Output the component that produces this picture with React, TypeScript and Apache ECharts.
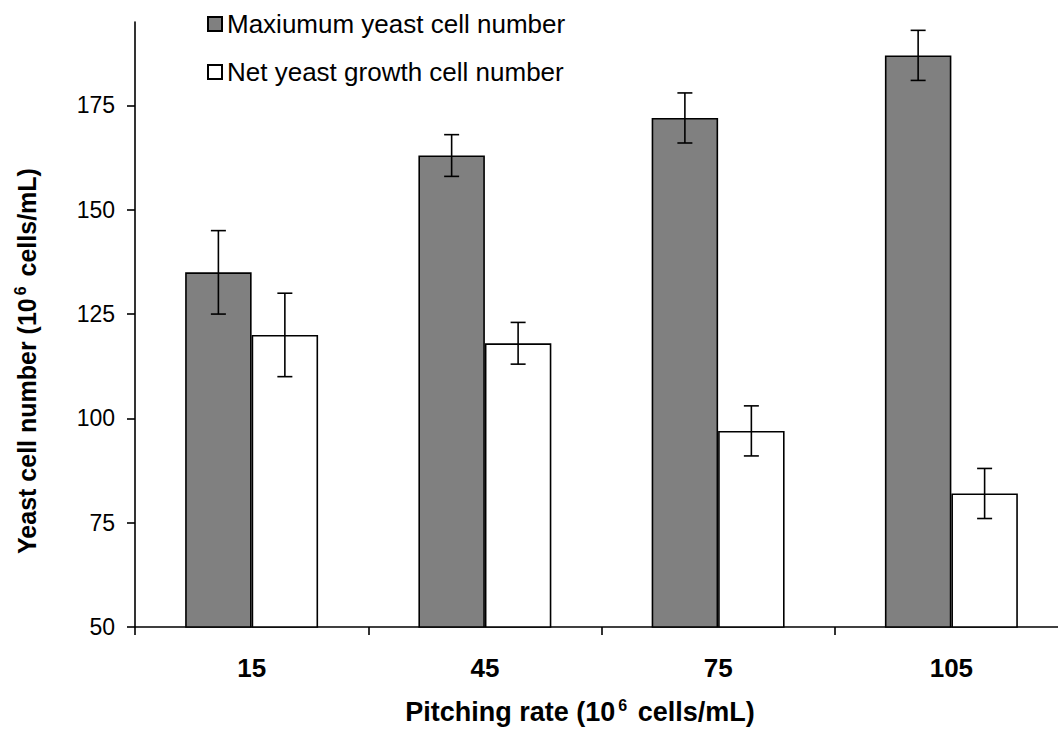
import React, { useEffect, useRef } from "react";
import * as echarts from "echarts";

const categories = ["15", "45", "75", "105"];
const seriesNames = ["Maxiumum yeast cell number", "Net yeast growth cell number"];
const maxCells = [135, 163, 172, 187];
const maxCellsErr = [10, 5, 6, 6];
const netGrowth = [120, 118, 97, 82];
const netGrowthErr = [10, 5, 6, 6];
const yTicks = [50, 75, 100, 125, 150, 175];

const FONT = "'Liberation Sans', Arial, sans-serif";
const BAR_FRAC = 0.285;

function errorSeries(values: number[], errs: number[], side: number) {
  return {
    type: "custom",
    silent: true,
    z: 10,
    data: values.map((v, i) => [i, v - errs[i], v + errs[i]]),
    renderItem: (params: any, api: any) => {
      const idx = api.value(0);
      const lo = api.coord([idx, api.value(1)]);
      const hi = api.coord([idx, api.value(2)]);
      const band = api.size([1, 0])[0];
      const x = lo[0] + side * band * BAR_FRAC / 2;
      const cap = 7.5;
      const st = { stroke: "#000", lineWidth: 1.6 };
      return {
        type: "group",
        children: [
          { type: "line", shape: { x1: x, y1: lo[1], x2: x, y2: hi[1] }, style: st },
          { type: "line", shape: { x1: x - cap, y1: lo[1], x2: x + cap, y2: lo[1] }, style: st },
          { type: "line", shape: { x1: x - cap, y1: hi[1], x2: x + cap, y2: hi[1] }, style: st },
        ],
      };
    },
  };
}

export default function App() {
  const ref = useRef<HTMLDivElement>(null);
  useEffect(() => {
    if (!ref.current) return;
    const chart = echarts.init(ref.current, null, { renderer: "svg" });
    chart.setOption({
      animation: false,
      backgroundColor: "#fff",
      textStyle: { fontFamily: FONT },
      grid: { left: 135, right: 0, top: 22, bottom: 115, containLabel: false },
      legend: {
        orient: "vertical",
        left: 207,
        top: 11,
        padding: 0,
        itemWidth: 14,
        itemHeight: 14,
        itemGap: 22,
        icon: "rect",
        selectedMode: false,
        data: seriesNames,
        textStyle: { fontFamily: FONT, fontSize: 26, color: "#000", lineHeight: 26, padding: [0, 0, 0, 0] },
      },
      xAxis: {
        type: "category",
        data: categories,
        axisLine: { lineStyle: { color: "#000", width: 1.6 } },
        axisTick: { show: true, length: 8, lineStyle: { color: "#000", width: 1.6 } },
        axisLabel: { fontFamily: FONT, fontSize: 26, fontWeight: "bold", color: "#000", margin: 28 },
        splitLine: { show: false },
      },
      yAxis: {
        type: "value",
        min: 50,
        max: 195,
        interval: 25,
        axisLine: { show: true, lineStyle: { color: "#000", width: 1.6 } },
        axisTick: { show: true, length: 8, lineStyle: { color: "#000", width: 1.6 }, customValues: yTicks },
        axisLabel: { fontFamily: FONT, fontSize: 23, color: "#000", margin: 20, customValues: yTicks },
        splitLine: { show: false },
      },
      series: [
        {
          name: seriesNames[0],
          type: "bar",
          data: maxCells,
          barWidth: (BAR_FRAC * 100) + "%",
          barGap: "0%",
          itemStyle: { color: "#808080", borderColor: "#000", borderWidth: 1.6 },
        },
        {
          name: seriesNames[1],
          type: "bar",
          data: netGrowth,
          barWidth: (BAR_FRAC * 100) + "%",
          barGap: "0%",
          itemStyle: { color: "#fff", borderColor: "#000", borderWidth: 1.6 },
        },
        errorSeries(maxCells, maxCellsErr, -1),
        errorSeries(netGrowth, netGrowthErr, 1),
      ],
      graphic: [
        {
          type: "text",
          x: 580,
          y: 712,
          style: {
            text: "{a|Pitching rate (10}{s|6}{a| cells/mL)}",
            align: "center",
            verticalAlign: "middle",
            rich: {
              a: { fontFamily: FONT, fontSize: 27, fontWeight: "bold", fill: "#000", lineHeight: 30, verticalAlign: "middle" },
              s: { fontFamily: FONT, fontSize: 16, fontWeight: "bold", fill: "#000", lineHeight: 30, verticalAlign: "top", padding: [0, 3, 0, 3] },
            },
          },
        },
        {
          type: "text",
          x: 27,
          y: 361,
          rotation: Math.PI / 2,
          style: {
            text: "{a|Yeast cell number (10}{s|6}{a| cells/mL)}",
            align: "center",
            verticalAlign: "middle",
            rich: {
              a: { fontFamily: FONT, fontSize: 25, fontWeight: "bold", fill: "#000", lineHeight: 30, verticalAlign: "middle" },
              s: { fontFamily: FONT, fontSize: 16, fontWeight: "bold", fill: "#000", lineHeight: 30, verticalAlign: "top", padding: [0, 3, 0, 3] },
            },
          },
        },
      ],
    });
    return () => chart.dispose();
  }, []);
  return (
    <div
      ref={ref}
      style={{ position: "fixed", left: 0, top: 0, width: 1068, height: 742, background: "#fff" }}
    />
  );
}
